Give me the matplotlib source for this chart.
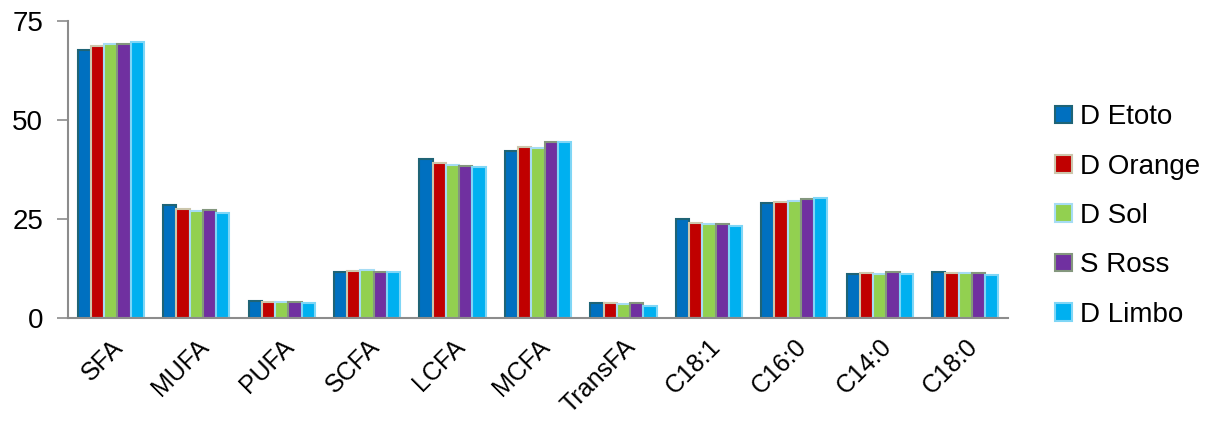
import numpy as np
import matplotlib.pyplot as plt
from matplotlib.patches import Patch

plt.rcParams['font.family'] = ['Liberation Sans', 'DejaVu Sans']

# Acides gras par site
categories = ['SFA', 'MUFA', 'PUFA', 'SCFA', 'LCFA', 'MCFA', 'TransFA',
              'C18:1', 'C16:0', 'C14:0', 'C18:0']
series = ['D Etoto', 'D Orange', 'D Sol', 'S Ross', 'D Limbo']

d_etoto  = [67.7, 28.5, 4.3, 11.6, 40.1, 42.2, 3.9, 25.0, 29.0, 11.0, 11.5]
d_orange = [68.7, 27.4, 4.0, 11.9, 39.1, 43.2, 3.7, 23.9, 29.4, 11.3, 11.4]
d_sol    = [69.2, 27.1, 4.0, 12.1, 38.6, 42.9, 3.5, 23.7, 29.5, 11.2, 11.4]
s_ross   = [69.3, 27.2, 4.0, 11.5, 38.5, 44.4, 3.7, 23.8, 30.1, 11.5, 11.4]
d_limbo  = [69.6, 26.5, 3.7, 11.6, 38.1, 44.4, 3.0, 23.2, 30.3, 11.2, 10.9]
valeurs = [d_etoto, d_orange, d_sol, s_ross, d_limbo]

couleurs = ['#0070C0', '#C00000', '#92D050', '#7030A0', '#00B0F0']
bords    = ['#1F6476', '#CCC6AC', '#A6DCF4', '#84977E', '#7FD6F6']

fig = plt.figure(figsize=(12.16, 4.21), dpi=100)
ax = fig.add_axes([68/1216, 103/421, 940/1216, 297/421])

x = np.arange(len(categories))
w = 0.155
for i, (v, c, b) in enumerate(zip(valeurs, couleurs, bords)):
    ax.bar(x + (i - 2)*w, v, w, color=c, edgecolor=b, linewidth=1.5)

ax.set_xlim(-0.5, len(categories) - 0.5)
ax.set_ylim(0, 75)
ax.set_yticks([0, 25, 50, 75])
ax.set_xticks(x)
ax.set_xticklabels(categories, rotation=45, ha='right', rotation_mode='anchor')
ax.tick_params(axis='x', length=0, labelsize=18, pad=12)
ax.tick_params(axis='y', length=8, width=1.2, color='#8C8C8C', labelsize=20, pad=10)

for s in ['top', 'right']:
    ax.spines[s].set_visible(False)
for s in ['left', 'bottom']:
    ax.spines[s].set_color('#8C8C8C')
    ax.spines[s].set_linewidth(1.5)

handles = [Patch(facecolor=c, edgecolor=b, linewidth=1.5) for c, b in zip(couleurs, bords)]
fig.legend(handles, series, loc='center left', bbox_to_anchor=(1030/1216, 0.487),
           frameon=False, fontsize=20, handlelength=0.6, handleheight=0.6,
           handletextpad=0.3, labelspacing=0.84)

fig.savefig('out.png', dpi=100)
